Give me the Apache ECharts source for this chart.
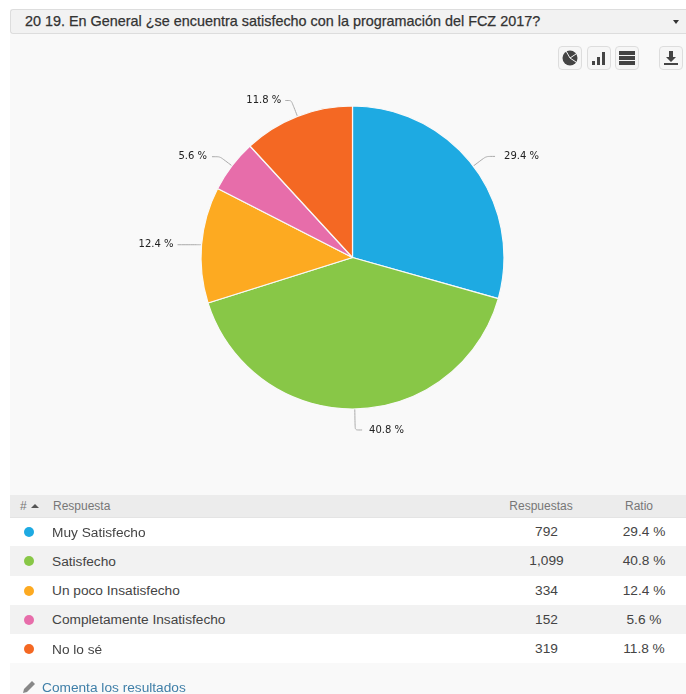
<!DOCTYPE html>
<html><head><meta charset="utf-8">
<script src="https://cdn.jsdelivr.net/npm/echarts@6/dist/echarts.min.js"></script>
<style>
html,body{margin:0;padding:0;background:#fff;overflow:hidden}
#page{position:relative;width:686px;height:694px;overflow:hidden;font-family:"Liberation Sans",Arial,sans-serif;color:#333}
#panel{position:absolute;left:10px;top:34px;width:676px;height:660px;background:#f9f9f9}
#title{position:absolute;left:10px;top:9px;width:676px;height:25px;box-sizing:border-box;background:#f2f2f2;border:1px solid #ddd;border-right:none;border-radius:3px 0 0 3px;font-size:14.4px;line-height:23px;padding-left:14px;color:#333;-webkit-text-stroke:.25px #333;white-space:nowrap}
#caret{position:absolute;left:673px;top:20px;width:0;height:0;border-left:3px solid transparent;border-right:3px solid transparent;border-top:4px solid #333}
#chart{position:absolute;left:0;top:0;width:686px;height:694px}
.btn{position:absolute;top:46px;width:24px;height:24px;box-sizing:border-box;background:#f6f6f6;border:1px solid #ddd;border-radius:4px}
.btn svg{position:absolute;left:2px;top:2px;width:18px;height:18px}
.row{position:absolute;left:10px;width:676px}
.cell{position:absolute;white-space:nowrap}
.hd .cell{font-size:12px;color:#777;line-height:22px}
.bd .cell{font-size:13.7px;color:#444}
.dot{position:absolute;left:14px;width:10px;height:10px;border-radius:50%}
#link{position:absolute;left:42px;top:680px;font-size:13.7px;line-height:16px;color:#3f7fa8;white-space:nowrap}
</style></head><body>
<div id="page">
<div id="panel"></div>
<div id="title"></div><div id="caret"></div>
<div id="chart"></div>
<div class="btn" style="left:558px"><svg viewBox="0 0 18 18"><circle cx="9" cy="9" r="7.5" fill="#444"/><path d="M9 9L15 5M9 9L15 13M9 9L5 2" stroke="#f6f6f6" stroke-width="1" fill="none"/></svg></div>
<div class="btn" style="left:587px"><svg viewBox="0 0 18 18"><rect x="2" y="12" width="3" height="4" fill="#444"/><rect x="7" y="8" width="3" height="8" fill="#444"/><rect x="12" y="3" width="3" height="13" fill="#444"/></svg></div>
<div class="btn" style="left:615px"><svg viewBox="0 0 18 18"><rect x="1" y="2" width="16" height="4" fill="#444"/><rect x="1" y="7" width="16" height="4" fill="#444"/><rect x="1" y="12" width="16" height="4" fill="#444"/></svg></div>
<div class="btn" style="left:659px"><svg viewBox="0 0 18 18"><path d="M7 2h4v6h3l-5 5-5-5h3z" fill="#444"/><rect x="2" y="14" width="14" height="2" fill="#444"/></svg></div>
<div id="table"></div>
<svg style="position:absolute;left:22px;top:680px" width="16" height="14" viewBox="0 0 16 14"><path d="M1 13l1-4 8-8 3 3-8 8z" fill="#888"/></svg>
<div id="link"></div>
</div>
<script>
const titleText = "20 19. En General ¿se encuentra satisfecho con la programación del FCZ 2017?";
const linkText = "Comenta los resultados";
const headers = ["#", "Respuesta", "Respuestas", "Ratio"];
const categories = ["Muy Satisfecho", "Satisfecho", "Un poco Insatisfecho", "Completamente Insatisfecho", "No lo sé"];
const responses = [792, 1099, 334, 152, 319];
const ratios = [29.4, 40.8, 12.4, 5.6, 11.8];
const colors = ["#1eaae2", "#88c747", "#fdaa21", "#e76daa", "#f46823"];

const rowTops = [518, 546, 576, 605, 634, 663];
const nameNudge = [1, 1, 0, 0, 1];
const rowFills = ["#ffffff", "#f2f2f2"];
document.getElementById('title').textContent = titleText;
document.getElementById('link').textContent = linkText;
const table = document.getElementById('table');
function add(parent, cls, css, text){const d=document.createElement('div');d.className=cls;d.style.cssText=css;if(text!==undefined)d.textContent=text;parent.appendChild(d);return d;}
const hd = add(table,'row hd','top:495px;height:22px;background:#ececec;border-bottom:1px solid #e4e4e4');
add(hd,'cell','left:10px',headers[0]);
add(hd,'cell','left:21px;top:9px;width:0;height:0;border-left:4px solid transparent;border-right:4px solid transparent;border-bottom:4px solid #555');
add(hd,'cell','left:43px',headers[1]);
add(hd,'cell','left:479px;width:104px;text-align:center',headers[2]);
add(hd,'cell','left:588px;width:82px;text-align:center',headers[3]);
categories.forEach((c,i)=>{
  const h=rowTops[i+1]-rowTops[i];
  const r=add(table,'row bd',`top:${rowTops[i]}px;height:${h}px;background:${rowFills[i%2]}`);
  add(r,'dot',`top:${h/2-5}px;background:${colors[i]}`);
  const cs=`line-height:${h}px;`;
  add(r,'cell',cs+`left:42px;top:${nameNudge[i]}px`,c);
  add(r,'cell',cs+`left:485px;width:103px;text-align:center;top:0`,responses[i].toLocaleString('en-US'));
  add(r,'cell',cs+`left:593px;width:82px;text-align:center;top:0`,ratios[i].toFixed(1)+' %');
});

const lineLayout = [
  {length:16,length2:9,gap:9},
  {length:21,length2:7,gap:7},
  {length:1,length2:23,gap:4},
  {length:15,length2:8,gap:5},
  {length:17,length2:6,gap:4}
];
const chart = echarts.init(document.getElementById('chart'), null, {renderer:'canvas'});
chart.setOption({
  animation:false,
  backgroundColor:'transparent',
  series:[{
    type:'pie',
    center:[352.5,257.5],
    radius:[0,151.5],
    startAngle:90,
    clockwise:true,
    avoidLabelOverlap:false,
    data:categories.map((c,i)=>({
      name:c,value:responses[i],itemStyle:{color:colors[i]},
      label:{distanceToLabelLine:lineLayout[i].gap},
      labelLine:{length:lineLayout[i].length,length2:lineLayout[i].length2}
    })),
    itemStyle:{borderColor:'#f9f9f9',borderWidth:1.2},
    label:{show:true,position:'outside',formatter:p=>ratios[p.dataIndex].toFixed(1)+' %',fontFamily:'"DejaVu Sans"',fontSize:10,color:'#222'},
    labelLine:{show:true,smooth:0.2,lineStyle:{color:'#aaaaaa',width:1}},
    emphasis:{disabled:true}
  }]
});
</script>
</body></html>
